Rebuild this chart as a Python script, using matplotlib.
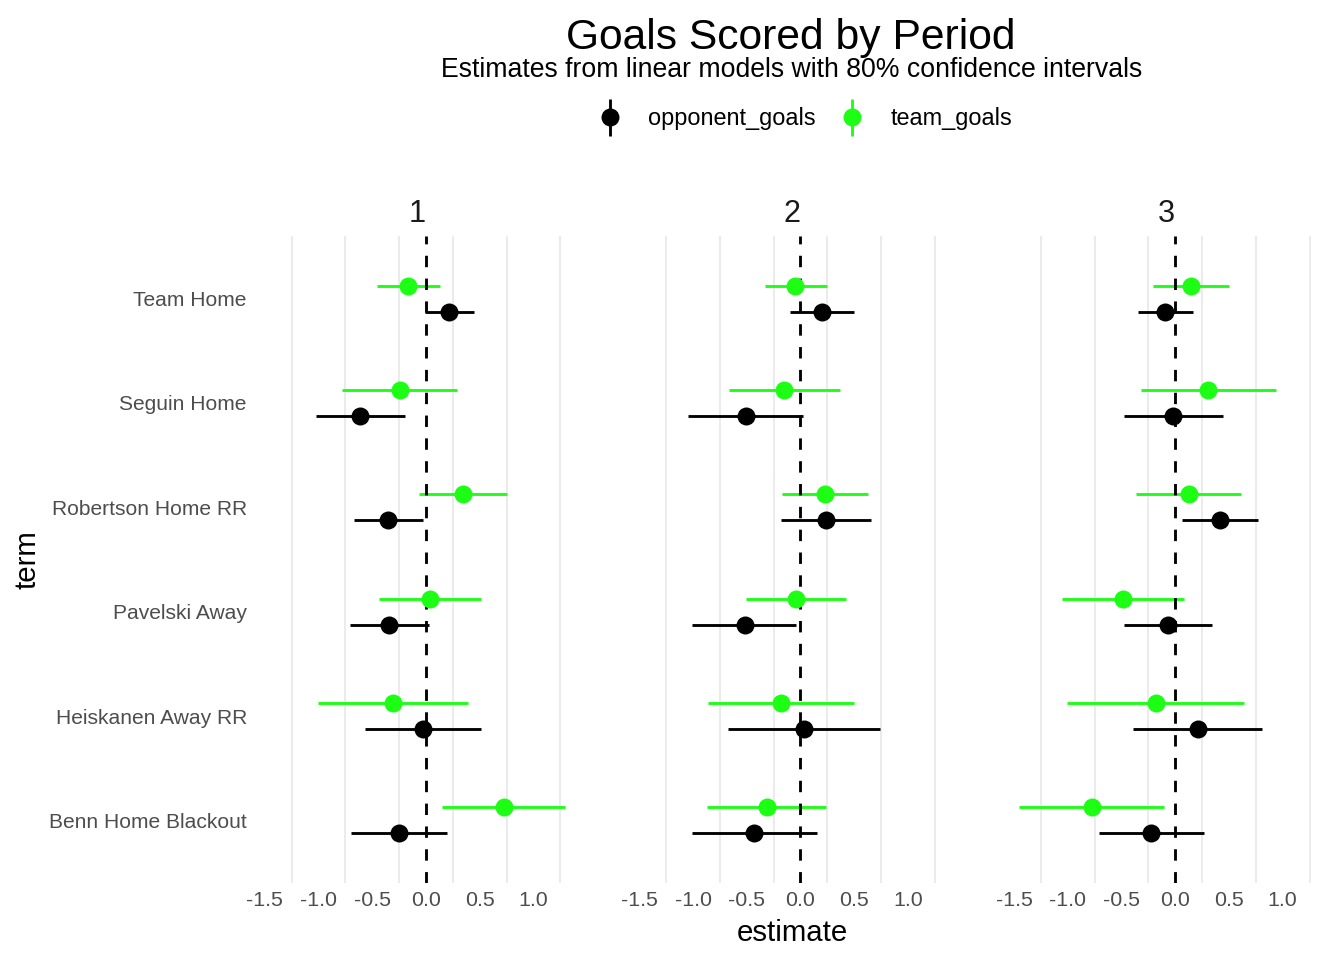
import numpy as np
import matplotlib
matplotlib.use("Agg")
import matplotlib.pyplot as plt
from matplotlib.lines import Line2D
from matplotlib.collections import LineCollection
from matplotlib.container import ErrorbarContainer
from matplotlib.legend_handler import HandlerErrorbar

plt.rcParams['font.family'] = ['Liberation Sans', 'DejaVu Sans']

# ---- data (terms listed top to bottom) ----
terms = ["Team Home", "Seguin Home", "Robertson Home RR",
         "Pavelski Away", "Heiskanen Away RR", "Benn Home Blackout"]
periods = ["1", "2", "3"]
series = ["opponent_goals", "team_goals"]

team_est_1 = [-0.164, -0.245, 0.341, 0.037, -0.307, 0.726]
team_lo_1 = [-0.459, -0.779, -0.068, -0.441, -1.002, 0.152]
team_hi_1 = [0.133, 0.289, 0.757, 0.515, 0.391, 1.294]
opp_est_1 = [0.217, -0.615, -0.357, -0.341, -0.028, -0.251]
opp_lo_1 = [-0.009, -1.027, -0.673, -0.711, -0.568, -0.695]
opp_hi_1 = [0.447, -0.199, -0.031, 0.031, 0.512, 0.192]

team_est_2 = [-0.047, -0.152, 0.230, -0.040, -0.180, -0.313]
team_lo_2 = [-0.335, -0.670, -0.168, -0.509, -0.860, -0.869]
team_hi_2 = [0.245, 0.369, 0.633, 0.425, 0.500, 0.242]
opp_est_2 = [0.196, -0.509, 0.236, -0.521, 0.028, -0.431]
opp_lo_2 = [-0.102, -1.046, -0.183, -1.006, -0.677, -1.009]
opp_hi_2 = [0.500, 0.022, 0.652, -0.040, 0.736, 0.149]

team_est_3 = [0.146, 0.304, 0.124, -0.484, -0.183, -0.779]
team_lo_3 = [-0.205, -0.323, -0.363, -1.052, -1.012, -1.456]
team_hi_3 = [0.500, 0.940, 0.615, 0.081, 0.642, -0.102]
opp_est_3 = [-0.096, -0.019, 0.419, -0.068, 0.211, -0.227]
opp_lo_3 = [-0.351, -0.475, 0.065, -0.478, -0.391, -0.714]
opp_hi_3 = [0.161, 0.441, 0.773, 0.341, 0.810, 0.264]

x_ticks = [-1.5, -1.0, -0.5, 0.0, 0.5, 1.0]
x_tick_labels = ["-1.5", "-1.0", "-0.5", "0.0", "0.5", "1.0"]
x_minor = [-1.25, -0.75, -0.25, 0.25, 0.75, 1.25]

data = {
    "1": {"opponent_goals": (opp_est_1, opp_lo_1, opp_hi_1),
          "team_goals": (team_est_1, team_lo_1, team_hi_1)},
    "2": {"opponent_goals": (opp_est_2, opp_lo_2, opp_hi_2),
          "team_goals": (team_est_2, team_lo_2, team_hi_2)},
    "3": {"opponent_goals": (opp_est_3, opp_lo_3, opp_hi_3),
          "team_goals": (team_est_3, team_lo_3, team_hi_3)},
}

colors = {"opponent_goals": "#000000", "team_goals": "#1CFF14"}
offsets = {"opponent_goals": -0.125, "team_goals": 0.125}

# ---- layout ----
W, H = 1344, 960
fig = plt.figure(figsize=(7, 5), dpi=192)
fig.patch.set_facecolor("white")

panel_lefts = [254.8, 629.3, 1004.1]
panel_w = 325.0
p_top, p_bot = 236.0, 883.0
xlim = (-1.594, 1.432)

ms = 6.75
lw = 1.07

ypos = np.arange(len(terms), 0, -1)  # Team Home at top

for i, p in enumerate(periods):
    ax = fig.add_axes([panel_lefts[i] / W, 1 - p_bot / H,
                       panel_w / W, (p_bot - p_top) / H])
    ax.set_facecolor("white")
    ax.set_xlim(*xlim)
    ax.set_ylim(0.4, len(terms) + 0.6)
    for s in series:
        est, lo, hi = data[p][s]
        y = ypos + offsets[s]
        ax.hlines(y, lo, hi, color=colors[s], lw=lw, zorder=2)
        ax.plot(est, y, 'o', color=colors[s], ms=ms, mec='none', zorder=4)
    ax.axvline(0, color='black', lw=1.07, ls=(0, (4, 4)), zorder=3)

    ax.set_xticks(x_ticks)
    ax.set_xticklabels(x_tick_labels)
    ax.set_xticks(x_minor, minor=True)
    ax.grid(False)
    ax.grid(which='minor', axis='x', color='#EBEBEB', lw=0.75, zorder=0)
    ax.set_yticks(ypos)
    if i == 0:
        ax.set_yticklabels(terms)
    else:
        ax.set_yticklabels([])
    ax.tick_params(which='both', length=0)
    ax.tick_params(axis='x', pad=3, labelsize=8, labelcolor='#4D4D4D')
    ax.tick_params(axis='y', pad=3, labelsize=7.9, labelcolor='#4D4D4D')
    for sp in ax.spines.values():
        sp.set_visible(False)
    cx = (panel_lefts[i] + panel_w / 2) / W
    fig.text(cx, 1 - 222 / H, p, ha='center', va='baseline',
             fontsize=11.5, color='#1A1A1A')

# titles
fig.text(791 / W, 1 - 49.5 / H, "Goals Scored by Period", ha='center',
         va='baseline', fontsize=16, color='black')
fig.text(792 / W, 1 - 76.7 / H,
         "Estimates from linear models with 80% confidence intervals",
         ha='center', va='baseline', fontsize=10, color='black')

# axis titles
fig.text(792 / W, 1 - 941 / H, "estimate", ha='center', va='baseline',
         fontsize=11, color='black')
fig.text(28 / W, 1 - 559.5 / H, "term", ha='center', va='center',
         rotation=90, fontsize=11, color='black')


# legend
def proxy(color, label):
    ln = Line2D([], [], ls='none', marker='o', ms=ms, color=color, mec='none')
    lc = LineCollection([], colors=[color], linewidths=lw)
    return ErrorbarContainer((ln, (), (lc,)), has_xerr=False, has_yerr=True,
                             label=label)


handles = [proxy(colors[s], s) for s in series]
fig.legend(handles=handles, labels=series, loc='center',
           bbox_to_anchor=(805 / W, 1 - 119 / H), ncol=2, frameon=False,
           fontsize=8.8, handlelength=1.0, handletextpad=1.12,
           columnspacing=1.07,
           handler_map={ErrorbarContainer: HandlerErrorbar(yerr_size=0.79)})

fig.savefig("out.png", dpi=192, facecolor="white")
